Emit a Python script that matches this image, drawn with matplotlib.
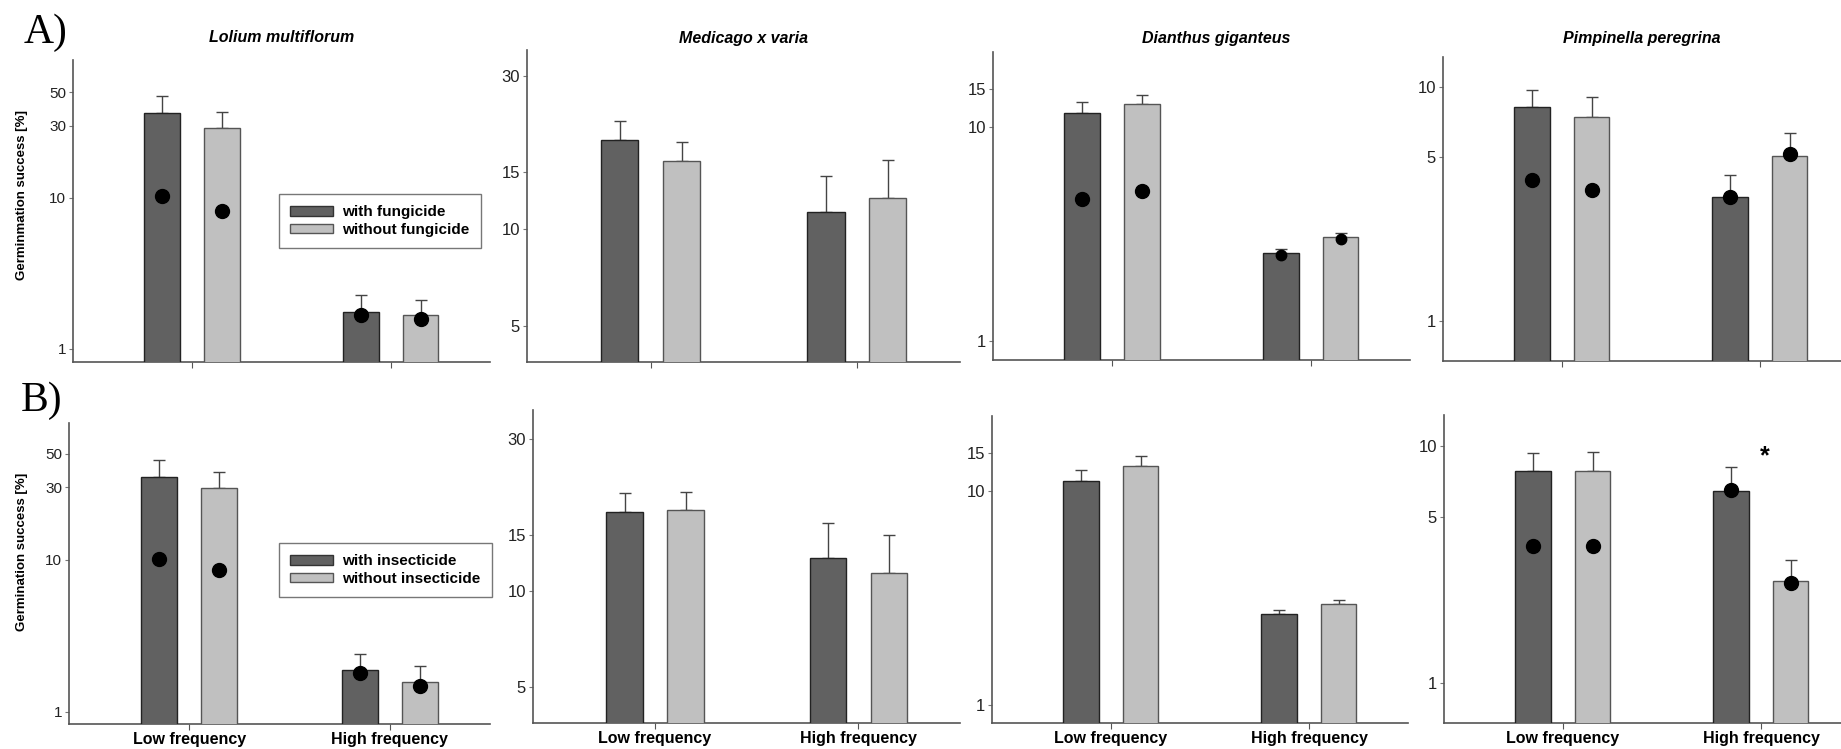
import matplotlib
matplotlib.use('Agg')
import matplotlib.pyplot as plt
from matplotlib.patches import Patch

plt.rcParams['font.family'] = ['Liberation Sans', 'DejaVu Sans']

# data
species = ['Lolium multiflorum', 'Medicago x varia', 'Dianthus giganteus', 'Pimpinella peregrina']
groups = ['Low frequency', 'High frequency']

# A) fungicide
fung_with = [[36.5, 1.76], [18.9, 11.3], [11.6, 2.59], [8.2, 3.39]]
fung_with_err = [[10.9, 0.52], [2.7, 3.3], [1.5, 0.12], [1.5, 0.81]]
fung_without = [[29.1, 1.68], [16.3, 12.5], [12.7, 3.08], [7.45, 5.07]]
fung_without_err = [[8.0, 0.43], [2.3, 3.9], [1.4, 0.13], [1.6, 1.29]]
fung_with_dots = [[10.3, 1.68], None, [4.6, 2.54], [4.0, 3.39]]
fung_without_dots = [[8.2, 1.58], None, [5.04, 3.01], [3.63, 5.16]]

# B) insecticide
ins_with = [[35.2, 1.89], [17.7, 12.7], [11.1, 2.66], [7.85, 6.46]]
ins_with_err = [[10.3, 0.52], [2.6, 3.6], [1.4, 0.12], [1.5, 1.7]]
ins_without = [[29.8, 1.57], [17.9, 11.4], [13.1, 2.96], [7.85, 2.69]]
ins_without_err = [[8.1, 0.44], [2.5, 3.6], [1.5, 0.13], [1.55, 0.61]]
ins_with_dots = [[10.2, 1.81], None, None, [3.79, 6.5]]
ins_without_dots = [[8.6, 1.48], None, None, [3.79, 2.64]]

yticks = [[1, 10, 30, 50], [5, 10, 15, 30], [1, 10, 15], [1, 5, 10]]
ylims_a = [(0.82, 82), (3.87, 36), (0.82, 22.3), (0.675, 13.4)]
ylims_b = [(0.83, 79.6), (3.86, 36.9), (0.824, 22.4), (0.678, 13.5)]

DARK = '#616161'
LIGHT = '#c0c0c0'
W, H = 1841, 749

fig = plt.figure(figsize=(W / 100, H / 100), dpi=100)


def px_axes(l, t, r, b):
    return fig.add_axes([l / W, 1 - b / H, (r - l) / W, (b - t) / H])


rects_a = [(73, 60, 490, 362), (527, 50, 960, 362), (993, 52, 1410, 360), (1443, 57, 1859, 361)]
rects_b = [(69, 423, 490, 724), (533, 410, 960, 723), (992, 416, 1408, 723), (1444, 415, 1860, 723)]
# dot sizes: low / high group
dot_size = [(10, 10), (10, 10), (10, 7.5), (10, 10)]


def draw_panel(ax, i, m1, e1, m2, e2, d1, d2, ylim, show_x):
    ax.set_yscale('log')
    x = [0, 1]
    off, w = 0.15, 0.18
    ax.bar([v - off for v in x], m1, width=w, color=DARK, edgecolor='#222222', linewidth=1, zorder=3)
    ax.bar([v + off for v in x], m2, width=w, color=LIGHT, edgecolor='#555555', linewidth=1, zorder=3)
    ax.errorbar([v - off for v in x], m1, yerr=[[0, 0], e1], fmt='none', ecolor='#444444',
                elinewidth=1, capsize=4.5, capthick=1, zorder=2)
    ax.errorbar([v + off for v in x], m2, yerr=[[0, 0], e2], fmt='none', ecolor='#444444',
                elinewidth=1, capsize=4.5, capthick=1, zorder=2)
    for d, sgn in [(d1, -1), (d2, 1)]:
        if d is None:
            continue
        for j in range(2):
            ax.plot(x[j] + sgn * off, d[j], 'o', color='black', markersize=dot_size[i][j], zorder=4)
    ax.set_xlim(-0.6, 1.5)
    ax.set_ylim(*ylim)
    ax.set_yticks(yticks[i])
    ax.set_yticklabels([str(t) for t in yticks[i]])
    ax.yaxis.set_minor_locator(matplotlib.ticker.NullLocator())
    ax.tick_params(axis='y', labelsize=11 if i == 0 else 12, length=3, color='#777777',
                   labelcolor='#222222', pad=2)
    ax.set_xticks(x)
    if show_x:
        ax.set_xticklabels(groups, fontsize=11.5, fontweight='bold')
    else:
        ax.set_xticklabels(['', ''])
    ax.tick_params(axis='x', length=4, color='#555555', pad=2)
    for s in ['top', 'right']:
        ax.spines[s].set_visible(False)
    for s in ['left', 'bottom']:
        ax.spines[s].set_color('#555555')
        ax.spines[s].set_linewidth(1.2)


for i in range(4):
    ax = px_axes(*rects_a[i])
    draw_panel(ax, i, fung_with[i], fung_with_err[i], fung_without[i], fung_without_err[i],
               fung_with_dots[i], fung_without_dots[i], ylims_a[i], False)
    l, t, r, b = rects_a[i]
    fig.text((l + min(r, W)) / 2 / W + (0.008 if i == 2 else 0), 1 - 38 / H, species[i],
             ha='center', va='center', fontsize=11.5, fontweight='bold', style='italic')

for i in range(4):
    ax = px_axes(*rects_b[i])
    draw_panel(ax, i, ins_with[i], ins_with_err[i], ins_without[i], ins_without_err[i],
               ins_with_dots[i], ins_without_dots[i], ylims_b[i], True)
    if i == 3:
        ax.text(1.02, 9.0, '*', ha='center', va='center', fontsize=18, fontweight='bold')

fig.text(22 / W, 1 - 195 / H, 'Germinmation success [%]', rotation=90, ha='center', va='center',
         fontsize=9.5, fontweight='bold')
fig.text(22 / W, 1 - 552 / H, 'Germination success [%]', rotation=90, ha='center', va='center',
         fontsize=9.5, fontweight='bold')

fig.text(24 / W, 1 - 14 / H, 'A)', ha='left', va='top', fontsize=30,
         family=['Liberation Serif', 'DejaVu Serif'])
fig.text(21 / W, 1 - 382 / H, 'B)', ha='left', va='top', fontsize=30,
         family=['Liberation Serif', 'DejaVu Serif'])

for labels, top in [(['with fungicide', 'without fungicide'], 194),
                    (['with insecticide', 'without insecticide'], 543)]:
    handles = [Patch(facecolor=DARK, edgecolor='#333333'), Patch(facecolor=LIGHT, edgecolor='#555555')]
    leg = fig.legend(handles, labels, loc='upper left', bbox_to_anchor=(279 / W, 1 - top / H),
                     frameon=True, fancybox=False, borderaxespad=0, handlelength=2.8,
                     handleheight=0.55, handletextpad=0.6, labelspacing=0.2, borderpad=0.75,
                     prop={'weight': 'bold', 'size': 11})
    leg.get_frame().set_edgecolor('#555555')
    leg.get_frame().set_linewidth(1)

fig.savefig('out.png', dpi=100)
